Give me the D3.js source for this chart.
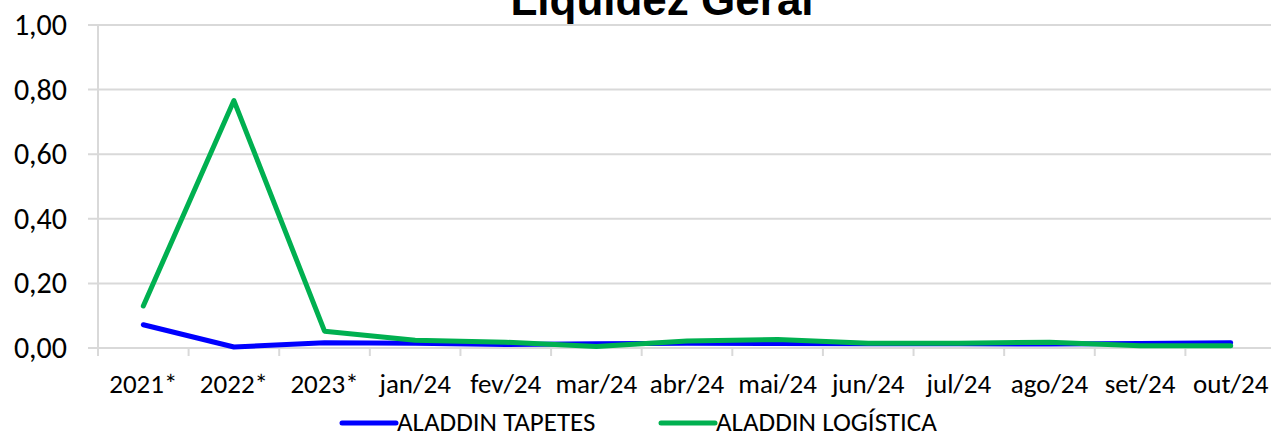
<!DOCTYPE html>
<html>
<head>
<meta charset="utf-8">
<script src="https://cdn.jsdelivr.net/npm/d3@7"></script>
<style>
  body { margin: 0; background: #fff; }
  svg text { font-family: Calibri, Carlito, "Noto Sans", sans-serif; fill: #000; }
</style>
</head>
<body>
<div id="chart"></div>
<script>
// categories along the x axis
const periods = ['2021*', '2022*', '2023*', 'jan/24', 'fev/24', 'mar/24', 'abr/24',
                 'mai/24', 'jun/24', 'jul/24', 'ago/24', 'set/24', 'out/24'];
// liquidez geral per company
const tapetes = [0.072, 0.003, 0.016, 0.015, 0.011, 0.013, 0.015, 0.014, 0.013, 0.013, 0.012, 0.014, 0.016];
const logistica = [0.130, 0.766, 0.052, 0.024, 0.018, 0.005, 0.022, 0.026, 0.015, 0.015, 0.018, 0.007, 0.007];
const yTicks = [0, 0.2, 0.4, 0.6, 0.8, 1.0];
const seriesNames = ['ALADDIN TAPETES', 'ALADDIN LOGÍSTICA'];
const seriesColors = ['#0000ff', '#00b050'];

const width = 1271, height = 431;
const plot = {left: 98, right: 1276, top: 25, bottom: 348};

const svg = d3.select('#chart').append('svg')
    .attr('width', width)
    .attr('height', height);

const x = d3.scaleBand().domain(periods).range([plot.left, plot.right]);
const y = d3.scaleLinear().domain([0, 1]).range([plot.bottom, plot.top]);

// gridlines
svg.append('g')
    .selectAll('line')
    .data(yTicks)
    .enter().append('line')
    .attr('x1', plot.left - 10)
    .attr('x2', width)
    .attr('y1', d => y(d))
    .attr('y2', d => y(d))
    .style('stroke', '#d9d9d9')
    .style('stroke-width', 2);

// vertical axis line
svg.append('line')
    .attr('x1', plot.left).attr('x2', plot.left)
    .attr('y1', y(1)).attr('y2', y(0) + 8)
    .style('stroke', '#d9d9d9')
    .style('stroke-width', 2);

// category tick marks
svg.append('g')
    .selectAll('line')
    .data(periods.slice(1))
    .enter().append('line')
    .attr('x1', d => x(d)).attr('x2', d => x(d))
    .attr('y1', y(0)).attr('y2', y(0) + 8)
    .style('stroke', '#d9d9d9')
    .style('stroke-width', 2);

// y labels
svg.append('g')
    .selectAll('text')
    .data(yTicks)
    .enter().append('text')
    .attr('x', 67)
    .attr('y', d => y(d) + 10)
    .attr('text-anchor', 'end')
    .style('font-size', '30px')
    .text(d => d3.format('.2f')(d).replace('.', ','));

// x labels
svg.append('g')
    .selectAll('text')
    .data(periods)
    .enter().append('text')
    .attr('x', d => x(d) + x.bandwidth() / 2)
    .attr('y', 393)
    .attr('text-anchor', 'middle')
    .style('font-size', '27px')
    .text(d => d);

// title
svg.append('text')
    .attr('x', 662)
    .attr('y', 15)
    .attr('text-anchor', 'middle')
    .style('font-family', '"Liberation Sans", Arial, sans-serif')
    .style('font-weight', 'bold')
    .style('font-size', '44px')
    .text('Liquidez Geral');

const line = d3.line()
    .x((d, i) => x(periods[i]) + x.bandwidth() / 2)
    .y(d => y(d));

[tapetes, logistica].forEach((vals, k) => {
    svg.append('path')
        .datum(vals)
        .attr('d', line)
        .style('fill', 'none')
        .style('stroke', seriesColors[k])
        .style('stroke-width', 5)
        .style('stroke-linejoin', 'round')
        .style('stroke-linecap', 'round');
});

// legend
const legendX = [340, 659];
seriesNames.forEach((name, k) => {
    const g = svg.append('g').attr('transform', `translate(${legendX[k]},423)`);
    g.append('line')
        .attr('x1', 2).attr('x2', 56)
        .attr('y1', 0).attr('y2', 0)
        .style('stroke', seriesColors[k])
        .style('stroke-width', 5)
        .style('stroke-linecap', 'round');
    g.append('text')
        .attr('x', 57)
        .attr('y', 8)
        .style('font-size', '27px')
        .text(name);
});
</script>
</body>
</html>
